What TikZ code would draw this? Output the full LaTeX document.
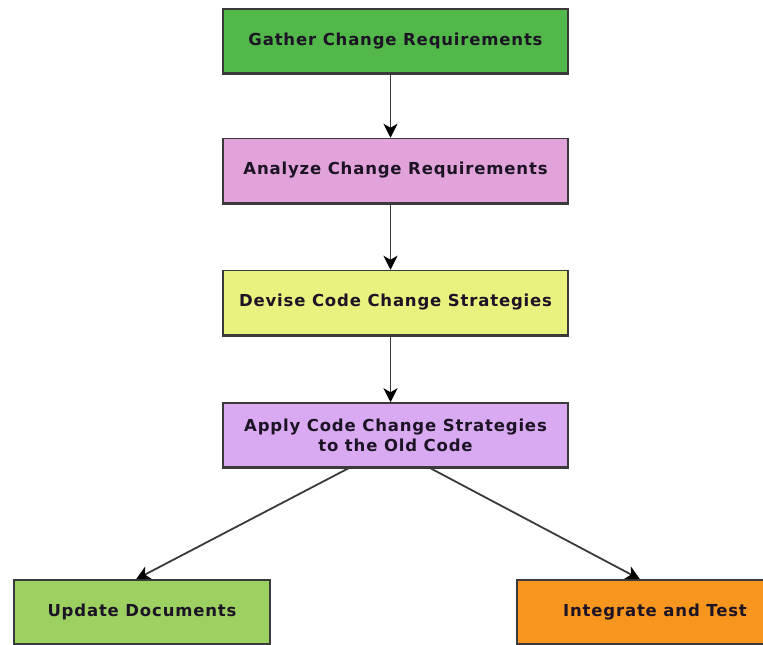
\documentclass[tikz,border=0pt]{standalone}
\usepackage{fontspec}
\setmainfont{DejaVu Sans}
\newfontfamily\boxfont[LetterSpace=5]{DejaVu Sans}
\usetikzlibrary{arrows.meta}
\definecolor{edge}{HTML}{3A3A3A}
\definecolor{ink}{HTML}{1C1424}
\definecolor{cGather}{HTML}{52B84A}
\definecolor{cAnalyze}{HTML}{E2A2DA}
\definecolor{cDevise}{HTML}{E8F27E}
\definecolor{cApply}{HTML}{D9AAF2}
\definecolor{cUpdate}{HTML}{9CD162}
\definecolor{cIntegrate}{HTML}{F7961F}
\tikzset{
  stepbox/.style={draw=edge, line width=1.5pt, minimum height=64pt,
    inner sep=0pt, align=center, text=ink,
    font=\boxfont\fontsize{16.5}{20}\selectfont\bfseries},
  flow/.style={draw=edge, line width=1.8pt,
    -{Stealth[length=14pt,width=14pt,inset=4pt,color=black]}},
}
\begin{document}
\begin{tikzpicture}[x=1pt,y=-1pt]
  \useasboundingbox (0,0) rectangle (763,645);
  \begin{scope}
    \clip (0,0) rectangle (763,645);
    \node[stepbox, fill=cGather, minimum width=345pt] (gather) at (395.5,41) {Gather Change Requirements};
    \node[stepbox, fill=cAnalyze, minimum width=345pt] (analyze) at (395.5,170.5) {Analyze Change Requirements};
    \node[stepbox, fill=cDevise, minimum width=345pt] (devise) at (395.5,302.5) {Devise Code Change Strategies};
    \node[stepbox, fill=cApply, minimum width=345pt] (apply) at (395.5,435) {Apply Code Change Strategies\\to the Old Code};
    \node[stepbox, fill=cUpdate, minimum width=256pt] (update) at (142,612) {Update Documents};
    \node[stepbox, fill=cIntegrate, minimum width=276pt] (integrate) at (655,612) {Integrate and Test};
    % heavier lower edges
    \foreach \n in {gather,analyze,devise,apply,update,integrate}
      \draw[edge, line width=3pt] (\n.south west) -- (\n.south east);
  \end{scope}
  \draw[flow] ([xshift=-5pt]gather.south) -- ([xshift=-5pt]analyze.north);
  \draw[flow] ([xshift=-5pt]analyze.south) -- ([xshift=-5pt]devise.north);
  \draw[flow] ([xshift=-5pt]devise.south) -- ([xshift=-5pt]apply.north);
  \draw[flow] ([xshift=-46pt]apply.south) -- ([xshift=-6pt]update.north);
  \draw[flow] ([xshift=34pt]apply.south) -- ([xshift=-15pt]integrate.north);
\end{tikzpicture}
\end{document}
